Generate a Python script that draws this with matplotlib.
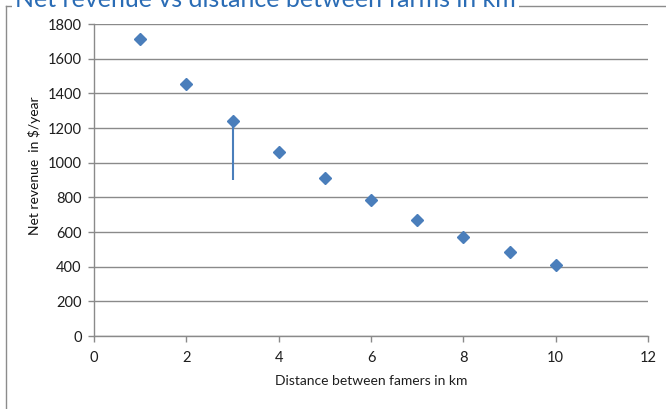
import matplotlib
matplotlib.use("Agg")
import matplotlib.pyplot as plt
from matplotlib.lines import Line2D

plt.rcParams['font.family'] = ['Lato', 'DejaVu Sans']

# Data
distance_km = [1, 2, 3, 4, 5, 6, 7, 8, 9, 10]
net_revenue = [1715, 1452, 1240, 1060, 910, 783, 672, 570, 483, 408]
# Lower error extent on the 3 km point
err_x = [3]
err_y = [1240]
err_low = [340]

x_ticks = [0, 2, 4, 6, 8, 10, 12]
y_ticks = [0, 200, 400, 600, 800, 1000, 1200, 1400, 1600, 1800]

W, H = 666, 409
fig = plt.figure(figsize=(W / 100, H / 100), dpi=100)
fig.patch.set_facecolor('white')

# Chart border (partly outside the canvas)
border_col = '#8c8c8c'
fig.add_artist(Line2D([6 / W, 6 / W], [0, 1 - 6 / H], transform=fig.transFigure,
                      color=border_col, lw=1.0))
fig.add_artist(Line2D([6 / W, 1], [1 - 6 / H, 1 - 6 / H], transform=fig.transFigure,
                      color=border_col, lw=1.0))

ax = fig.add_axes([94 / W, 1 - 336 / H, (648 - 94) / W, (336 - 24) / H])
marker_col = '#4a7ebb'
grid_col = '#8a8a8a'

ax.errorbar(err_x, err_y, yerr=[err_low, [0]], fmt='none', ecolor=marker_col,
            elinewidth=1.5, capsize=0, zorder=3)
ax.plot(distance_km, net_revenue, linestyle='none', marker='D', markersize=6.6,
        color=marker_col, markeredgecolor=marker_col, zorder=4)

ax.set_xlim(0, 12)
ax.set_ylim(0, 1800)
ax.set_xticks(x_ticks)
ax.set_yticks(y_ticks)
ax.set_xticklabels([str(v) for v in x_ticks])
ax.set_yticklabels([str(v) for v in y_ticks])

ax.grid(axis='y', color=grid_col, lw=1.0)
ax.set_axisbelow(True)
for s in ['top', 'right']:
    ax.spines[s].set_visible(False)
for s in ['left', 'bottom']:
    ax.spines[s].set_color(grid_col)
    ax.spines[s].set_linewidth(1.0)
ax.tick_params(axis='both', colors=grid_col, length=4, width=1.0, labelsize=10.5,
               labelcolor='#1e1e1e', direction='out')
ax.tick_params(axis='x', pad=7)
ax.tick_params(axis='y', pad=5)

fig.text(371 / W, 1 - 381 / H, 'Distance between famers in km', ha='center', va='center',
         fontsize=10, color='#1e1e1e')
fig.text(35 / W, 1 - 166 / H, 'Net revenue  in $/year', ha='center', va='center',
         rotation=90, fontsize=10, color='#111111')

fig.text(15 / W, 1 - 7 / H, 'Net revenue vs distance between farms in km', ha='left',
         va='baseline', fontsize=18, color='#2a6cb5',
         bbox=dict(facecolor='white', edgecolor='none', pad=2))

fig.savefig('out.png', dpi=100)
